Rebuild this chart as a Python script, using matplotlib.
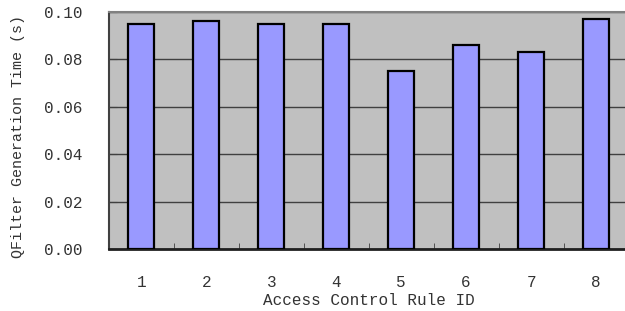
import matplotlib
matplotlib.use("Agg")
import matplotlib.pyplot as plt
from matplotlib.ticker import FixedLocator

rule_ids = ["1", "2", "3", "4", "5", "6", "7", "8"]
gen_time = [0.095, 0.096, 0.095, 0.095, 0.075, 0.086, 0.083, 0.097]
y_ticks = [0.00, 0.02, 0.04, 0.06, 0.08, 0.10]
y_tick_labels = ["0.00", "0.02", "0.04", "0.06", "0.08", "0.10"]

font = "Liberation Mono"
fs = 11.5

fig = plt.figure(figsize=(6.25, 3.11), dpi=100)
W, H = 625, 311
left, right, top, bottom = 109, 628.5, 12, 249
ax = fig.add_axes([left / W, (H - bottom) / H, (right - left) / W, (bottom - top) / H])
ax.set_facecolor("#C0C0C0")

x = list(range(len(rule_ids)))
ax.bar(x, gen_time, width=0.4, color="#9999FF", edgecolor="black", linewidth=1.6, zorder=3)

ax.set_xlim(-0.5, len(rule_ids) - 0.5)
ax.set_ylim(0, 0.10)
ax.set_yticks(y_ticks)
ax.set_yticklabels(y_tick_labels, fontfamily=font, fontsize=fs, color="#333333")
ax.yaxis.grid(True, color="#404040", linewidth=1.0, zorder=1)
ax.set_axisbelow(True)

ax.set_xticks(x)
ax.set_xticklabels(rule_ids, fontfamily=font, fontsize=fs, color="#333333")
ax.xaxis.set_minor_locator(FixedLocator([i + 0.5 for i in x]))
ax.tick_params(axis="x", which="major", length=0, pad=19)
ax.tick_params(axis="x", which="minor", direction="in", length=4, color="#404040")
ax.tick_params(axis="y", which="major", direction="in", length=6, color="#404040", pad=19)

for s in ["top", "right"]:
    ax.spines[s].set_color("#808080")
    ax.spines[s].set_linewidth(1.5)
ax.spines["left"].set_color("#404040")
ax.spines["left"].set_linewidth(1.5)
ax.spines["bottom"].set_color("#202020")
ax.spines["bottom"].set_linewidth(2)

ax.set_xlabel("Access Control Rule ID", fontfamily=font, fontsize=fs, color="#333333", labelpad=2)
fig.text(18 / W, (H - 258) / H, "QFilter Generation Time (s)", rotation=90,
         fontfamily=font, fontsize=10.8, color="#333333", ha="center", va="bottom")

fig.savefig("out.png", dpi=100)
